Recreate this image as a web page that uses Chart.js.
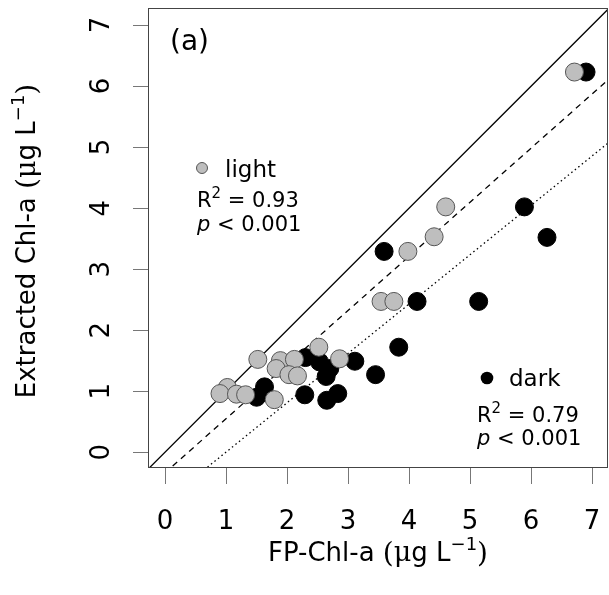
<!DOCTYPE html>
<html>
<head>
<meta charset="utf-8">
<script src="https://cdn.jsdelivr.net/npm/chart.js@4"></script>
<style>
  html, body { margin: 0; padding: 0; background: #fff; overflow: hidden; }
  #wrap { width: 609px; height: 595px; position: relative; }
  canvas { display: block; }
</style>
</head>
<body>
<div id="wrap"><canvas id="chart"></canvas></div>
<script>
// light (grey) and dark (black) samples
const lightX = [6.71, 4.60, 4.41, 3.98, 3.54, 3.75, 2.52, 1.52, 1.89, 2.12, 1.82, 2.03, 2.17, 1.02, 0.90, 1.17, 1.32, 1.79, 2.86];
const lightY = [6.23, 4.02, 3.53, 3.29, 2.47, 2.47, 1.72, 1.52, 1.50, 1.52, 1.37, 1.27, 1.25, 1.06, 0.96, 0.95, 0.94, 0.86, 1.53];
const darkX = [6.90, 5.89, 6.26, 3.59, 4.13, 5.14, 3.83, 1.63, 1.50, 2.30, 2.53, 3.11, 2.64, 2.70, 3.45, 2.29, 2.65, 2.83];
const darkY = [6.23, 4.02, 3.52, 3.29, 2.47, 2.47, 1.72, 1.07, 0.90, 1.55, 1.48, 1.49, 1.24, 1.37, 1.27, 0.94, 0.85, 0.96];

// regression fits [intercept, slope]
const lightFit = [-0.338, 0.887];
const darkFit = [-0.808, 0.809];

const xTicks = [0, 1, 2, 3, 4, 5, 6, 7];
const yTicks = [0, 1, 2, 3, 4, 5, 6, 7];
const xRange = [-0.28, 7.26];
const yRange = [-0.26, 7.28];

const FONT = '"DejaVu Sans", Verdana, sans-serif';
const SERIF = '"DejaVu Serif", "Liberation Serif", serif';

const pts = (xs, ys) => xs.map((x, i) => ({ x: x, y: ys[i] }));
const fitLine = f => xRange.map(x => ({ x: x, y: f[0] + f[1] * x }));

// text pieces: {t, size, font, style, dy}
function richWidth(ctx, parts) {
  let w = 0;
  parts.forEach(p => {
    ctx.font = (p.style || '') + ' ' + p.size + 'px ' + (p.font || FONT);
    w += ctx.measureText(p.t).width;
  });
  return w;
}
function drawRich(ctx, parts, x, y) {
  ctx.textAlign = 'left';
  ctx.textBaseline = 'alphabetic';
  parts.forEach(p => {
    ctx.font = (p.style || '') + ' ' + p.size + 'px ' + (p.font || FONT);
    ctx.fillText(p.t, x, y - (p.dy || 0));
    x += ctx.measureText(p.t).width;
  });
}

const decor = {
  id: 'decor',
  afterDraw(chart) {
    const ctx = chart.ctx;
    const a = chart.chartArea;
    const sx = chart.scales.x, sy = chart.scales.y;
    ctx.save();
    ctx.fillStyle = '#000';

    // box
    ctx.strokeStyle = '#444';
    ctx.lineWidth = 1;
    ctx.strokeRect(a.left + 0.5, a.top + 0.5, a.right - a.left - 1, a.bottom - a.top - 1);

    // ticks
    ctx.strokeStyle = '#777';
    ctx.beginPath();
    xTicks.forEach(v => {
      const px = Math.round(sx.getPixelForValue(v)) + 0.5;
      ctx.moveTo(px, a.bottom); ctx.lineTo(px, a.bottom + 16);
    });
    yTicks.forEach(v => {
      const py = Math.round(sy.getPixelForValue(v)) + 0.5;
      ctx.moveTo(a.left, py); ctx.lineTo(a.left - 15, py);
    });
    ctx.stroke();

    // tick labels
    ctx.font = '26px ' + FONT;
    ctx.textAlign = 'center';
    ctx.textBaseline = 'alphabetic';
    xTicks.forEach(v => ctx.fillText(String(v), sx.getPixelForValue(v), 529));
    yTicks.forEach(v => {
      ctx.save();
      ctx.translate(109, sy.getPixelForValue(v));
      ctx.rotate(-Math.PI / 2);
      ctx.fillText(String(v), 0, 0);
      ctx.restore();
    });

    // axis titles
    const unit = [
      { t: '(', size: 28, font: SERIF, dy: -1 },
      { t: 'μ', size: 27, font: SERIF },
      { t: 'g L', size: 26 },
      { t: '−1', size: 18, dy: 11 },
      { t: ')', size: 28, font: SERIF, dy: -1 }
    ];
    const xt = [{ t: 'FP-Chl-a ', size: 26 }].concat(unit);
    const cx = (a.left + a.right) / 2;
    drawRich(ctx, xt, cx - richWidth(ctx, xt) / 2, 561);
    const yt = [{ t: 'Extracted Chl-a ', size: 26 }].concat(unit);
    ctx.save();
    ctx.translate(35, (a.top + a.bottom) / 2 + 3);
    ctx.rotate(-Math.PI / 2);
    drawRich(ctx, yt, -richWidth(ctx, yt) / 2, 0);
    ctx.restore();

    // panel label
    ctx.font = '28px ' + FONT;
    ctx.textAlign = 'left';
    ctx.fillText('(a)', 170, 50);

    // legend: light
    ctx.beginPath();
    ctx.arc(202, 168, 5.5, 0, Math.PI * 2);
    ctx.fillStyle = '#bebebe'; ctx.fill();
    ctx.strokeStyle = '#555'; ctx.stroke();
    ctx.fillStyle = '#000';
    drawRich(ctx, [{ t: 'light', size: 23 }], 225, 177);
    drawRich(ctx, [{ t: 'R', size: 21 }, { t: '2', size: 15, dy: 9 }, { t: ' = 0.93', size: 21 }], 197, 207);
    drawRich(ctx, [{ t: 'p', size: 21, style: 'italic' }, { t: ' < 0.001', size: 21 }], 197, 231);

    // legend: dark
    ctx.beginPath();
    ctx.arc(487, 378, 6.3, 0, Math.PI * 2);
    ctx.fill();
    drawRich(ctx, [{ t: 'dark', size: 23 }], 509, 386);
    drawRich(ctx, [{ t: 'R', size: 21 }, { t: '2', size: 15, dy: 9 }, { t: ' = 0.79', size: 21 }], 477, 422);
    drawRich(ctx, [{ t: 'p', size: 21, style: 'italic' }, { t: ' < 0.001', size: 21 }], 477, 445);

    ctx.restore();
  }
};

new Chart(document.getElementById('chart'), {
  type: 'scatter',
  data: {
    datasets: [
      {
        label: 'light',
        data: pts(lightX, lightY),
        backgroundColor: '#bebebe',
        borderColor: '#555',
        borderWidth: 1,
        pointRadius: 9,
        order: 1
      },
      {
        label: 'dark',
        data: pts(darkX, darkY),
        backgroundColor: '#000',
        borderColor: '#000',
        borderWidth: 1,
        pointRadius: 9,
        order: 2
      },
      {
        label: '1:1',
        data: xRange.map(x => ({ x: x, y: x })),
        showLine: true,
        borderColor: '#000',
        borderWidth: 1.3,
        pointRadius: 0,
        order: 3
      },
      {
        label: 'light fit',
        data: fitLine(lightFit),
        showLine: true,
        borderColor: '#000',
        borderWidth: 1.3,
        borderDash: [6, 5],
        pointRadius: 0,
        order: 3
      },
      {
        label: 'dark fit',
        data: fitLine(darkFit),
        showLine: true,
        borderColor: '#000',
        borderWidth: 1.3,
        borderDash: [1.5, 3],
        pointRadius: 0,
        order: 3
      }
    ]
  },
  options: {
    responsive: true,
    maintainAspectRatio: false,
    animation: false,
    layout: { autoPadding: false, padding: { left: 148, top: 8, right: 1, bottom: 127 } },
    plugins: { legend: { display: false }, tooltip: { enabled: false } },
    scales: {
      x: { type: 'linear', min: xRange[0], max: xRange[1], display: false },
      y: { type: 'linear', min: yRange[0], max: yRange[1], display: false }
    }
  },
  plugins: [decor]
});
</script>
</body>
</html>
